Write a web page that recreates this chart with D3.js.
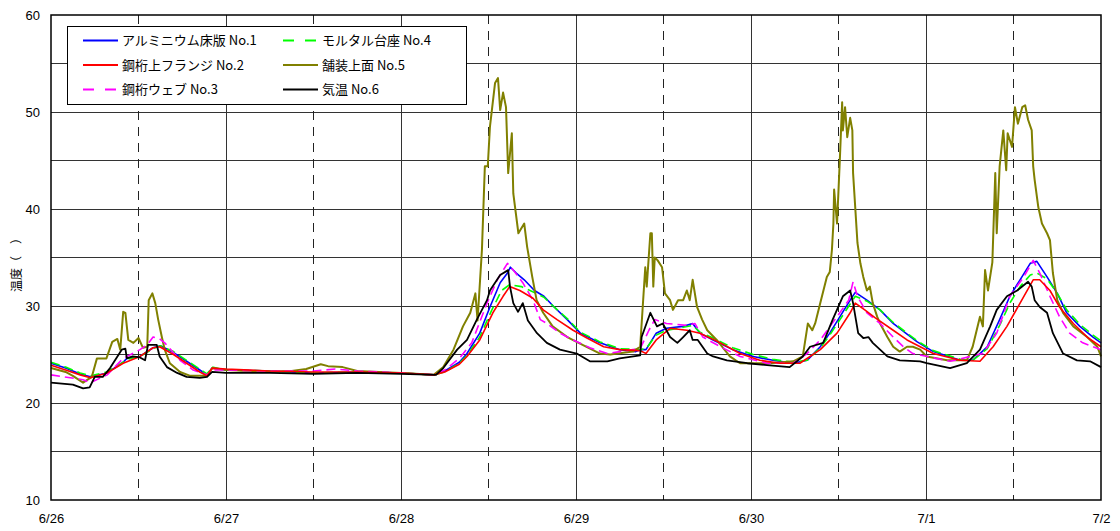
<!DOCTYPE html>
<html><head><meta charset="utf-8">
<script src="https://cdn.jsdelivr.net/npm/d3@7/dist/d3.min.js"></script>
<style>
body{margin:0;background:#fff}
svg text{font-family:"Liberation Sans",Arial,"Noto Sans CJK JP",sans-serif}
</style>
</head><body>
<svg id="chart" width="1120" height="531"></svg>
<script>
// ---- data (hours since 6/26 0:00, temperature) ----
const dayLabels = ["6/26","6/27","6/28","6/29","6/30","7/1","7/2"];
const dayTicks = [0,24,48,72,96,120,144];
const yTickValues = [10,20,30,40,50,60];
const yGridValues = [15,20,25,30,35,40,45,50,55];
const noonTicks = [12,36,60,84,108,132];
const seriesNames = ["アルミニウム床版 No.1","鋼桁上フランジ No.2","鋼桁ウェブ No.3","モルタル台座 No.4","舗装上面 No.5","気温 No.6"];
const yLabel = "温度（　）";

const no1 = [[0,24.1],[2,23.6],[4,23.0],[5.4,22.7],[7.7,23.1],[9.9,24.2],[10.4,24.6],[12.2,24.8],[14.0,25.7],[15,25.9],[16.8,25.2],[18.6,24.3],[20.4,23.4],[21.4,22.9],[22.1,23.6],[24,23.4],
[30,23.3],[36,23.1],[42,23.2],[48,23.1],
[52.5,22.9],[54,23.3],[56,24.2],[57.05,25.1],[58.8,27.2],[60.2,29.9],[61.6,32.4],[62.6,33.4],[63,34.0],[63.8,33.4],[64.9,32.7],[66.3,31.6],[67.6,31.0],[69.0,29.9],[70.8,28.6],[72.6,27.2],[75.3,26.2],[78,25.5],[80.2,25.3],[80.8,25.5],
[81.6,25.5],[83.0,27.2],[84.4,27.7],[86.7,27.9],[88.0,28.2],[89.0,27.2],[90.8,26.5],[93.5,25.5],[96.3,24.8],[99.0,24.4],[101.8,24.1],[103.7,24.4],[105.5,25.8],[106.8,27.2],[108.2,28.9],[109.6,30.6],[110.3,31.4],[111.9,30.6],[113.7,29.6],[115.5,28.2],[117.4,27.1],[118.8,26.3],[121,25.3],[124.7,24.4],[126.4,24.4],[128.4,25.8],[130.1,28.6],[131.5,31.0],[132.9,32.7],[134.3,34.4],[135.2,34.6],[136.6,33.0],[138.0,31.3],[139.3,29.3],[141.1,27.9],[142.9,26.8],[144,26.2]];

const no2 = [[0,23.9],[2,23.4],[4,22.9],[5.4,22.6],[7.7,23.1],[9.9,24.1],[12.2,24.8],[14.0,25.7],[14.9,25.8],[16.8,25.0],[18.6,24.1],[20.4,23.2],[21.4,22.8],[22.1,23.6],[24,23.5],
[30,23.3],[36,23.2],[42,23.2],[48,23.1],
[52.5,22.9],[54,23.2],[56,24.0],[57.05,24.8],[58.8,26.5],[60.6,29.3],[62.0,31.0],[62.9,32.0],[64.3,31.6],[66.1,30.8],[67.5,29.6],[69.4,28.6],[71.6,27.5],[73.5,26.7],[75.8,25.8],[78.0,25.5],[80.8,25.4],
[81.6,25.1],[83.0,26.5],[84.9,27.7],[87.2,27.5],[89.0,27.2],[91.8,26.2],[94.5,25.1],[97.2,24.4],[100,24.1],[102.7,24.1],[105.5,25.5],[107.8,27.2],[109.6,29.3],[110.3,30.3],[111.6,29.6],[113.0,28.8],[115.5,27.5],[117.4,26.5],[119.2,25.8],[121,25.1],[124.7,24.4],[127.4,24.3],[129.2,25.8],[131.1,27.9],[132.9,30.3],[134.7,32.7],[135.6,32.7],[137.0,31.6],[138.3,29.9],[140.2,28.2],[142.1,26.8],[144,25.8]];

const no3 = [[0,22.9],[4.4,22.4],[5.4,22.1],[7.7,22.9],[9.9,24.6],[12.2,25.5],[13.2,26.0],[14.0,26.8],[14.9,26.6],[15.6,26.2],[17.7,24.4],[19.5,23.4],[21.4,22.9],[22.1,23.4],[24,23.4],
[30,23.3],[36,23.3],[39,23.5],[42,23.3],[48,23.1],
[52.5,22.9],[54,23.4],[56,24.6],[57.7,26.2],[59.8,30.3],[61.2,32.7],[62.6,34.4],[63.4,33.7],[64.7,32.4],[66.1,30.6],[67.1,28.6],[68.0,28.2],[69.8,27.2],[71.6,26.5],[73.9,25.7],[76.3,25.1],[79.8,25.5],[80.8,25.6],
[82.0,27.5],[82.8,28.6],[84.4,28.2],[87.2,28.0],[88.3,28.2],[89.4,26.8],[91.8,25.8],[94.5,24.8],[98.2,24.1],[101.8,24.1],[103.7,25.1],[105.5,26.5],[107.8,28.9],[109.4,30.6],[110.0,32.5],[110.6,31.0],[111.9,29.3],[113.7,28.2],[115.5,26.8],[116.9,25.8],[118.2,25.1],[123.3,24.3],[127.8,25.1],[129.7,27.2],[131.5,31.0],[133.4,33.0],[134.7,34.7],[135.6,33.4],[137.0,31.0],[138.3,28.9],[139.7,27.2],[141.5,26.2],[144,25.5]];

const no4 = [[0,24.2],[2,23.7],[4,23.1],[5.4,22.8],[7.7,23.2],[9.9,24.2],[10.4,24.5],[12.2,24.8],[14.0,25.6],[15,25.9],[16.8,25.3],[18.6,24.4],[20.4,23.5],[21.4,23.0],[22.1,23.7],[24,23.4],
[30,23.3],[36,23.1],[42,23.2],[48,23.1],
[52.5,22.9],[54,23.2],[56,24.1],[57.05,24.9],[58.8,26.8],[60.4,29.5],[61.8,31.6],[62.9,32.2],[64.5,32.0],[66.3,31.4],[67.6,30.9],[69.0,29.9],[70.8,28.7],[72.6,27.3],[75.3,26.3],[78,25.6],[80.8,25.5],
[81.6,25.6],[83.0,27.0],[84.4,27.5],[86.7,27.8],[88.0,28.0],[89.0,27.3],[90.8,26.7],[93.5,25.7],[96.3,25.0],[99.0,24.5],[101.8,24.2],[103.7,24.4],[105.5,25.7],[106.8,27.0],[108.2,28.6],[109.6,30.2],[110.3,31.0],[111.9,30.5],[113.7,29.6],[115.5,28.3],[117.4,27.2],[118.8,26.4],[121,25.4],[124.7,24.5],[126.4,24.4],[128.4,25.6],[130.1,28.0],[131.5,30.3],[132.9,32.0],[134.3,33.2],[135.2,33.4],[136.6,32.8],[138.0,31.3],[139.3,29.6],[141.1,28.1],[142.9,27.0],[144,26.4]];

const no5 = [[0,23.6],[2,23.2],[3,22.8],[4.4,22.1],[5.6,22.7],[6.3,24.6],[7.6,24.6],[8.4,26.3],[9.1,26.6],[9.5,25.5],[9.9,29.4],[10.2,29.3],[10.6,26.5],[11.3,26.2],[12.0,26.7],[12.6,25.7],[13.2,25.8],[13.4,30.6],[13.9,31.3],[14.3,30.3],[14.7,28.6],[15.2,26.8],[15.6,25.5],[16.3,24.1],[17.7,23.2],[19.1,22.8],[21.4,22.8],[22.1,23.6],[24,23.4],
[30,23.2],[33,23.3],[35,23.5],[37,24.0],[38,23.8],[40,23.7],[42,23.3],[48,23.1],
[52.5,22.9],[53.8,23.7],[55.2,25.5],[56.5,27.9],[57.5,29.3],[58.2,31.3],[58.5,28.5],[59.1,35.8],[59.5,44.4],[59.9,44.4],[60.2,48.5],[60.9,53.0],[61.3,53.5],[61.6,50.2],[62.0,52.0],[62.4,50.5],[62.7,43.7],[63.2,47.8],[63.4,41.6],[64.1,37.5],[64.9,38.5],[65.3,36.1],[66.0,33.0],[66.6,30.6],[67.5,29.3],[68.8,27.9],[70.8,26.8],[72.9,26.0],[75.3,25.1],[76.7,25.0],[79.8,25.3],[80.8,25.8],
[81.5,34.0],[81.7,32.0],[82.2,37.5],[82.4,37.5],[82.6,32.0],[82.8,35.0],[83.2,34.7],[83.8,34.0],[84.2,31.3],[84.9,30.6],[85.3,29.6],[86.0,30.6],[86.7,30.6],[87.2,31.6],[87.6,30.6],[88.0,32.7],[88.6,29.9],[89.3,28.6],[90.0,27.5],[91.3,26.5],[93.1,24.8],[94.5,24.1],[98.6,24.1],[101.8,24.3],[103.1,24.8],[103.8,28.2],[104.4,27.5],[104.8,28.2],[105.5,30.3],[106.4,33.0],[106.8,33.5],[107.1,35.8],[107.3,38.5],[107.4,42.0],[107.8,38.5],[107.9,40.2],[108.2,45.4],[108.5,51.0],[108.6,48.1],[108.9,50.5],[109.2,47.4],[109.6,49.4],[109.9,48.1],[110.0,43.7],[110.6,36.5],[111.0,34.4],[111.4,33.0],[111.9,31.6],[112.3,32.0],[112.7,30.3],[113.3,28.9],[113.7,28.2],[114.7,26.8],[115.5,25.8],[116.4,25.3],[117.4,25.8],[118.2,25.8],[119.2,25.5],[120.1,24.8],[122.9,24.4],[125.6,24.4],[126.4,25.8],[127.4,28.9],[127.8,27.9],[128.1,33.7],[128.5,31.6],[129.1,34.5],[129.5,43.7],[129.7,37.5],[130.1,44.4],[130.6,48.1],[131.0,44.0],[131.2,47.8],[131.8,46.4],[132.2,50.5],[132.6,48.8],[133.2,50.5],[133.6,50.7],[134.0,49.2],[134.5,48.1],[134.7,44.4],[134.9,43.0],[135.4,40.2],[135.9,38.5],[136.6,37.5],[137.0,36.8],[137.4,33.4],[138.0,30.6],[138.8,29.3],[140.2,27.9],[142.1,26.8],[143.5,25.8],[144,24.8]];

const no6 = [[0,22.1],[3,21.9],[4.4,21.5],[5.3,21.6],[6.0,22.7],[7.1,22.7],[8.1,23.6],[9.7,25.5],[10.2,25.6],[10.4,24.6],[11.2,24.8],[12.2,24.7],[12.9,24.4],[13.3,26.0],[14.5,26.0],[14.9,24.8],[15.9,23.7],[17.3,23.1],[18.6,22.7],[20.4,22.6],[21.4,22.7],[22.1,23.2],[24,23.1],
[30,23.1],[36,23.0],[42,23.1],[48,23.0],
[52.8,22.9],[53.8,23.6],[55.7,25.5],[57.05,26.5],[58.4,28.6],[59.8,30.6],[60.2,31.6],[61.6,33.2],[62.7,33.7],[62.95,32.0],[63.4,30.3],[64.05,29.4],[64.7,30.3],[65.4,28.5],[66.65,27.2],[68.0,26.2],[69.8,25.5],[72.1,25.1],[73.9,24.3],[76.3,24.3],[78.0,24.6],[80.8,24.9],
[81.0,26.8],[82.2,29.3],[83.1,27.9],[83.9,28.2],[84.9,26.8],[85.9,26.2],[86.7,26.8],[87.6,27.5],[88.0,26.5],[88.7,26.5],[90.0,25.1],[90.8,24.8],[92.7,24.4],[95.5,24.1],[98.2,23.9],[101.3,23.7],[103.1,24.8],[104.1,25.8],[105.9,26.2],[107.2,28.6],[108.6,31.0],[109.6,31.6],[110.0,30.3],[110.7,27.2],[111.4,26.7],[112.1,26.8],[112.7,26.2],[113.7,25.5],[114.7,24.8],[116.4,24.4],[119.2,24.3],[120.1,24.1],[123.3,23.6],[125.6,24.1],[127.4,25.5],[128.8,27.9],[129.7,29.6],[131.1,31.0],[132.5,31.6],[134.0,32.5],[134.5,32.0],[134.9,30.6],[135.6,29.9],[136.6,29.3],[137.4,27.2],[138.8,25.1],[140.7,24.4],[142.5,24.3],[144,23.7]];

// ---- drawing ----
const svg = d3.select("#chart");
const L=51, R=1101, T=15, B=500;
const x = d3.scaleLinear().domain([0,144]).range([L,R]);
const y = d3.scaleLinear().domain([10,60]).range([B,T]);

// grid
svg.append("g").selectAll("line").data(yGridValues).join("line")
  .attr("x1",L).attr("x2",R).attr("y1",d=>y(d)).attr("y2",d=>y(d))
  .attr("stroke","#333").attr("stroke-width",1).attr("shape-rendering","crispEdges");
svg.append("g").selectAll("line").data(dayTicks.slice(1,-1)).join("line")
  .attr("x1",d=>x(d)).attr("x2",d=>x(d)).attr("y1",T).attr("y2",B)
  .attr("stroke","#333").attr("stroke-width",1).attr("shape-rendering","crispEdges");
svg.append("g").selectAll("line").data(noonTicks).join("line")
  .attr("x1",d=>x(d)).attr("x2",d=>x(d)).attr("y1",T).attr("y2",B)
  .attr("stroke","#222").attr("stroke-width",1).attr("stroke-dasharray","9,7").attr("shape-rendering","crispEdges");

// series
const series = [
  {name:seriesNames[0], data:no1, color:"#0000ff", dash:null, w:1.6},
  {name:seriesNames[3], data:no4, color:"#00ff00", dash:"9,5", w:1.6},
  {name:seriesNames[4], data:no5, color:"#808000", dash:null, w:2},
  {name:seriesNames[2], data:no3, color:"#ff00ff", dash:"9,5", w:1.6},
  {name:seriesNames[1], data:no2, color:"#ff0000", dash:null, w:1.6},
  {name:seriesNames[5], data:no6, color:"#000000", dash:null, w:1.8}
];
const line = d3.line().x(d=>x(d[0])).y(d=>y(d[1]));
svg.append("g").selectAll("path").data(series).join("path")
  .attr("d",d=>line(d.data)).attr("fill","none")
  .attr("stroke",d=>d.color).attr("stroke-width",d=>d.w)
  .attr("stroke-dasharray",d=>d.dash).attr("stroke-linejoin","round");

// frame
svg.append("rect").attr("x",L).attr("y",T).attr("width",R-L).attr("height",B-T)
  .attr("fill","none").attr("stroke","#000").attr("stroke-width",1.5);

// axes
const ya = svg.append("g").attr("transform",`translate(${L},0)`)
  .call(d3.axisLeft(y).tickValues(yTickValues).tickSize(0).tickPadding(11).tickFormat(d3.format("d")));
ya.select(".domain").remove();
ya.selectAll("text").attr("font-size",13).attr("fill","#000").style("font-family","Liberation Sans, Arial, sans-serif");
const xa = svg.append("g").attr("transform",`translate(0,${B})`)
  .call(d3.axisBottom(x).tickValues(dayTicks).tickSize(0).tickPadding(14).tickFormat((d,i)=>dayLabels[i]));
xa.select(".domain").remove();
xa.selectAll("text").attr("font-size",13).attr("fill","#000").style("font-family","Liberation Sans Narrow, Liberation Sans, Arial, sans-serif");

svg.append("text").attr("transform","translate(21,262) rotate(-90)")
  .attr("text-anchor","middle").attr("font-size",12)
  .style("font-family","Noto Sans CJK JP, sans-serif").text(yLabel);

// legend
const lg = svg.append("g");
lg.append("rect").attr("x",67.5).attr("y",26.5).attr("width",399).attr("height",78)
  .attr("fill","#fff").attr("stroke","#000").attr("stroke-width",1);
const legendOrder = [
  {s:series[0], col:0,row:0},{s:series[4], col:0,row:1},{s:series[3], col:0,row:2},
  {s:series[1], col:1,row:0},{s:series[2], col:1,row:1},{s:series[5], col:1,row:2}
];
const li = lg.selectAll("g.item").data(legendOrder).join("g").attr("class","item")
  .attr("transform",d=>`translate(${d.col?283:83},${40.5+d.row*24.5})`);
li.append("line").attr("x1",0).attr("x2",35).attr("y1",0).attr("y2",0)
  .attr("stroke",d=>d.s.color).attr("stroke-width",2).attr("stroke-dasharray",d=>d.s.dash?"11,11":null);
li.append("text").attr("x",39).attr("dy","0.35em").attr("font-size",13)
  .style("font-family","Noto Sans CJK JP, Liberation Sans, sans-serif").text(d=>d.s.name);
</script>
</body></html>
